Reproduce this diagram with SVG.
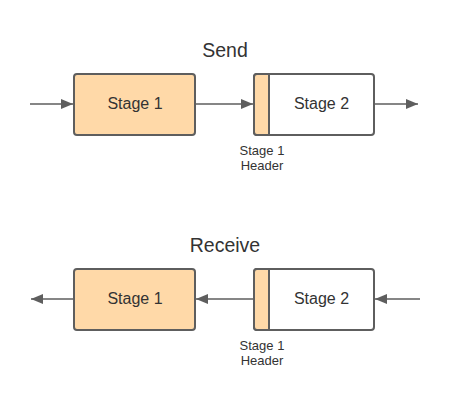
<svg xmlns="http://www.w3.org/2000/svg" width="450" height="407" viewBox="0 0 450 407">
<style>
.box{stroke:#5e5e5e;stroke-width:2}
.o{fill:#ffd9a8}
.w{fill:#ffffff}
.c{stroke:#5e5e5e;stroke-width:1.5;fill:none}
text{font-family:"Liberation Sans",Arial,sans-serif;fill:#333333;text-anchor:middle}
.t{font-size:19.5px}
.l{font-size:16px}
.s{font-size:13px}
</style>
<defs>
<marker id="ah" viewBox="0 0 12 10" refX="12" refY="5" markerWidth="12" markerHeight="10" markerUnits="userSpaceOnUse" orient="auto">
<path d="M0,0 L12,5 L0,10 Z" fill="#5e5e5e"/>
</marker>
</defs>
<rect width="450" height="407" fill="#ffffff"/>
<text class="t" x="225" y="56.5">Send</text>
<text class="t" x="225" y="251.5">Receive</text>
<g id="connectors">
<line class="c" x1="30" y1="104" x2="73" y2="104" marker-end="url(#ah)"/>
<line class="c" x1="195" y1="104" x2="253" y2="104" marker-end="url(#ah)"/>
<line class="c" x1="375" y1="104" x2="418" y2="104" marker-end="url(#ah)"/>
<line class="c" x1="74" y1="299" x2="31" y2="299" marker-end="url(#ah)"/>
<line class="c" x1="254" y1="299" x2="196" y2="299" marker-end="url(#ah)"/>
<line class="c" x1="420" y1="299" x2="375" y2="299" marker-end="url(#ah)"/>
</g>
<g id="send-stage1">
<rect class="box o" x="74" y="74" width="121" height="61" rx="3"/>
<text class="l" x="135" y="109">Stage 1</text>
</g>
<g id="send-stage2">
<rect class="box w" x="254" y="74" width="120" height="61" rx="3"/>
<text class="l" x="321.5" y="109">Stage 2</text>
</g>
<g id="send-header">
<path class="box o" d="M269,74 L257,74 Q254,74 254,77 L254,132 Q254,135 257,135 L269,135 Z"/>
<text class="s" x="262" y="154.5">Stage 1</text>
<text class="s" x="262" y="169.5">Header</text>
</g>
<g id="recv-stage1">
<rect class="box o" x="74" y="269" width="121" height="61" rx="3"/>
<text class="l" x="135" y="304">Stage 1</text>
</g>
<g id="recv-stage2">
<rect class="box w" x="254" y="269" width="120" height="61" rx="3"/>
<text class="l" x="321.5" y="304">Stage 2</text>
</g>
<g id="recv-header">
<path class="box o" d="M269,269 L257,269 Q254,269 254,272 L254,327 Q254,330 257,330 L269,330 Z"/>
<text class="s" x="262" y="349.5">Stage 1</text>
<text class="s" x="262" y="364.5">Header</text>
</g>
</svg>
